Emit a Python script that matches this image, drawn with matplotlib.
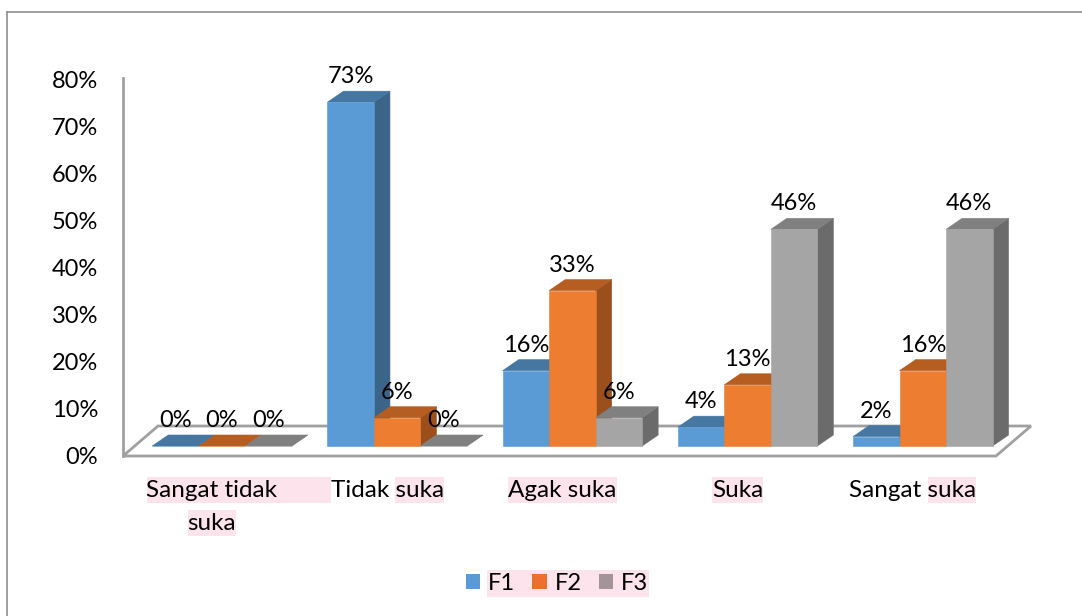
import matplotlib
matplotlib.use("Agg")
import matplotlib.pyplot as plt
from matplotlib.patches import Polygon, Rectangle, Patch
from matplotlib.lines import Line2D

# data
categories = ["Sangat tidak suka", "Tidak suka", "Agak suka", "Suka", "Sangat suka"]
series_names = ["F1", "F2", "F3"]
f1 = [0, 73, 16, 4, 2]
f2 = [0, 6, 33, 13, 16]
f3 = [0, 0, 6, 46, 46]
y_ticks = [0, 10, 20, 30, 40, 50, 60, 70, 80]
y_tick_labels = ["0%", "10%", "20%", "30%", "40%", "50%", "60%", "70%", "80%"]

# category labels split in lines, and the word that has the pink highlight
label_lines = [["Sangat tidak", "suka"], ["Tidak suka"], ["Agak suka"], ["Suka"], ["Sangat suka"]]
label_marked = [["Sangat tidak", "suka"], ["suka"], ["Agak suka"], ["Suka"], ["suka"]]

# colours (front, top, side) like excel 3d columns
front_cols = ["#5B9BD5", "#ED7D31", "#A5A5A5"]
top_cols = ["#4677A3", "#B65D22", "#808080"]
side_cols = ["#3B6489", "#9B4F1D", "#6B6B6B"]
legend_cols = ["#5B9BD5", "#EB702D", "#A49399"]
pink = "#FDE4EC"

W, H = 1082, 616
PX_X = 175.2   # pixels per category
PX_Y = 4.71    # pixels per percent

plt.rcParams['font.family'] = ['Lato', 'DejaVu Sans']
FS = 17        # numbers
FS_CAT = 17.5  # category labels

fig = plt.figure(figsize=(W / 100, H / 100), dpi=100)
ax = fig.add_axes([123 / W, (H - 456) / H, 917 / W, (456 - 79.2) / H])
x0 = -(212 - 123) / PX_X
ax.set_xlim(x0, x0 + 917 / PX_X)
ax.set_ylim(0, 80)
ax.patch.set_visible(False)
for s in ax.spines.values():
    s.set_visible(False)
ax.set_xticks([])
ax.set_yticks(y_ticks)
ax.set_yticklabels(y_tick_labels)
ax.tick_params(axis='y', length=0, pad=18, labelsize=FS)

# 3d offsets in data units
floor_d = (35 / PX_X, 30 / PX_Y)
front_off = (10 / PX_X, 10 / PX_Y)
depth = (16 / PX_X, 11 / PX_Y)
bw = 46.5 / PX_X

# floor and the vertical axis line
xr = (996 - 212) / PX_X
floor = Polygon([(x0, 0), (xr, 0), (xr + floor_d[0], floor_d[1]), (x0 + floor_d[0], floor_d[1])],
                closed=True, facecolor="white", edgecolor="#A0A0A0", lw=2, clip_on=False, zorder=1)
ax.add_patch(floor)
ax.plot([x0, x0], [0, (456 - 78) / PX_Y], color="#A0A0A0", lw=2, clip_on=False, zorder=1)


def draw_bar(x, h, k):
    x = x + front_off[0]
    b = front_off[1]
    t = b + h
    dx, dy = depth
    faces = [
        ([(x + bw, b), (x + bw + dx, b + dy), (x + bw + dx, t + dy), (x + bw, t)], side_cols[k]),
        ([(x, t), (x + bw, t), (x + bw + dx, t + dy), (x + dx, t + dy)], top_cols[k]),
        ([(x, b), (x + bw, b), (x + bw, t), (x, t)], front_cols[k]),
    ]
    for pts, c in faces:
        ax.add_patch(Polygon(pts, closed=True, facecolor=c, edgecolor=c, lw=0.4,
                             clip_on=False, zorder=2))
    ax.annotate(f"{h}%", xy=(x + bw / 2, t + dy), xytext=(0, 5.8), textcoords="offset points",
                ha="center", va="baseline", fontsize=FS, zorder=3, annotation_clip=False)


for i in range(len(categories)):
    for k, vals in enumerate([f1, f2, f3]):
        draw_bar(i - 1.5 * bw + k * bw, vals[i], k)

# category labels
line_base = [-(497 - 456) / PX_Y, -(530 - 456) / PX_Y]
label_texts = []
for i, lines in enumerate(label_lines):
    for j, line in enumerate(lines):
        t = ax.text(i, line_base[j], line, ha="center", va="baseline", fontsize=FS_CAT, zorder=3)
        label_texts.append((i, j, t))

# legend
handles = [Patch(facecolor=c, edgecolor="none") for c in legend_cols]
leg = fig.legend(handles, series_names, loc="center", bbox_to_anchor=(557 / W, (H - 583) / H),
                 ncol=3, frameon=False, fontsize=FS, handlelength=0.6, handleheight=0.6,
                 handletextpad=0.34, columnspacing=0.72)

# pink highlights, need the renderer to measure the words
fig.canvas.draw()
r = fig.canvas.get_renderer()


def word_width(word):
    tmp = ax.text(0, 0, word, fontsize=FS_CAT)
    w = tmp.get_window_extent(r).width
    tmp.remove()
    return w


for i, j, t in label_texts:
    bb = t.get_window_extent(r)
    word = label_marked[i][j]
    left = bb.x1 - word_width(word)
    right = bb.x1
    if i == 0 and j == 0:
        right = bb.x1 + 53   # this highlight runs on past the text
    base = ax.transData.transform((i, line_base[j]))[1]
    ax.add_patch(Rectangle((left / W, (base - 6) / H), (right - left) / W, 26 / H,
                           transform=fig.transFigure, facecolor=pink, edgecolor="none",
                           clip_on=False, zorder=0.5))

lt = leg.get_texts()
lb0 = lt[0].get_window_extent(r)
lb1 = lt[-1].get_window_extent(r)
ax.add_patch(Rectangle(((lb0.x0 - 1) / W, 19 / H), (lb1.x1 - lb0.x0 + 2) / W, 27 / H,
                       transform=fig.transFigure, facecolor=pink, edgecolor="none",
                       clip_on=False, zorder=0.5))

# outer border of the chart area (only top and left show)
fig.add_artist(Line2D([7 / W, 1], [1 - 12 / H, 1 - 12 / H], color="#8F8F8F", lw=1.2))
fig.add_artist(Line2D([7 / W, 7 / W], [0, 1 - 12 / H], color="#8F8F8F", lw=1.2))

fig.savefig("out.png", dpi=100)
